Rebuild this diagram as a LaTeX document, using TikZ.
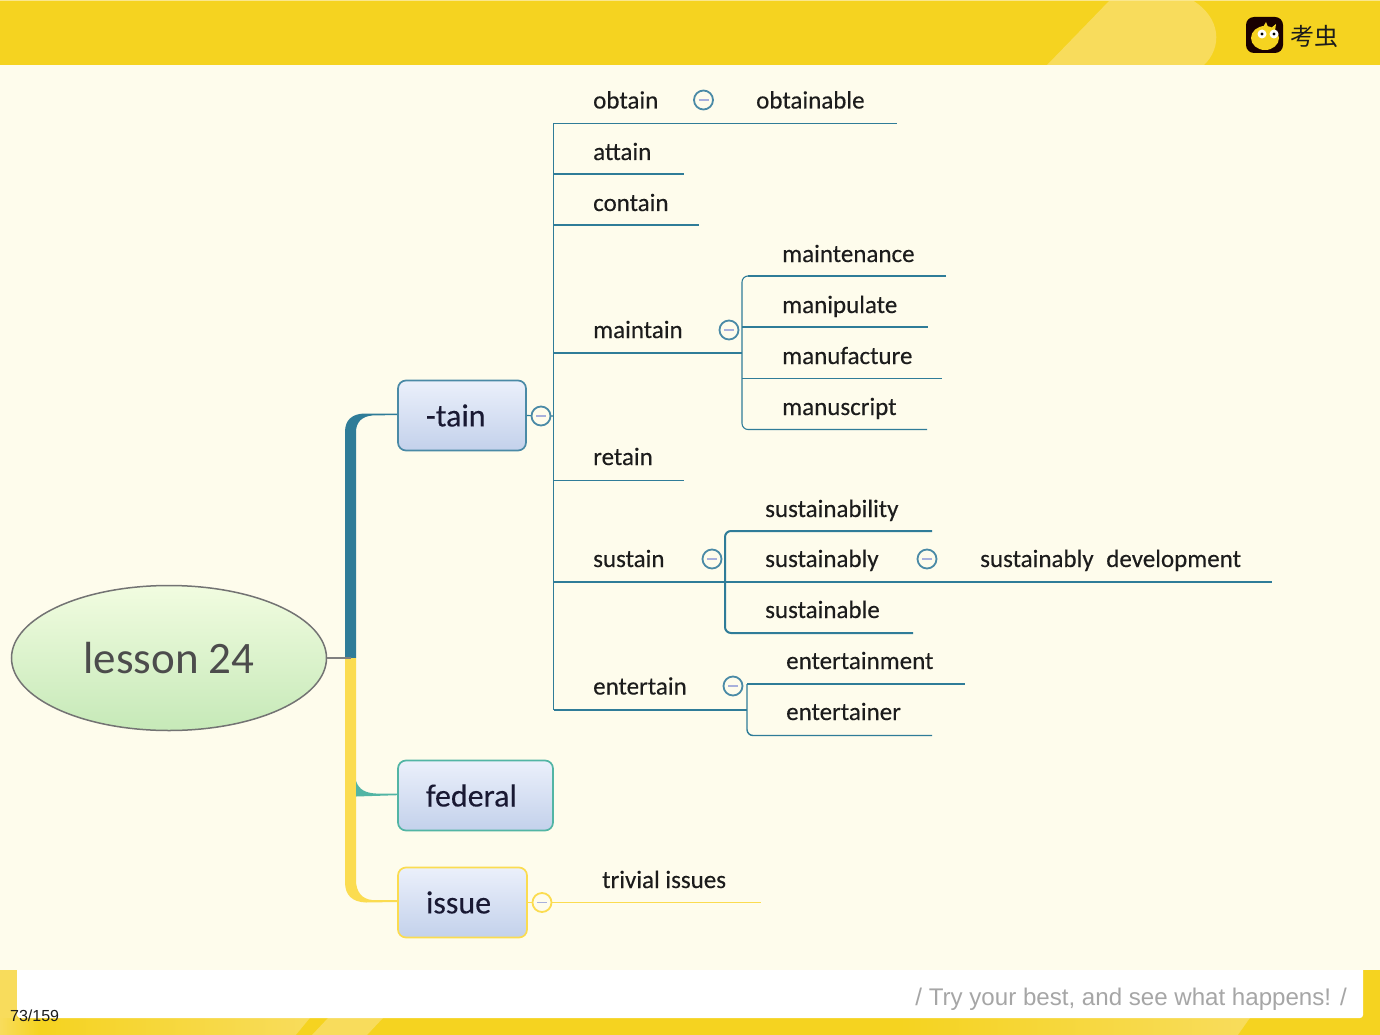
\documentclass[tikz,border=0pt]{standalone}
\usepackage{fontspec}
\setmainfont{Carlito}
\newfontfamily\lib{Liberation Sans}
\newfontfamily\cjk{Noto Sans CJK SC}
\usetikzlibrary{shapes.geometric,calc}
\definecolor{paper}{HTML}{FEFCEC}
\definecolor{gold}{HTML}{F5D320}
\definecolor{goldlight}{HTML}{F8DC5C}
\definecolor{teal}{HTML}{2F7C98}
\definecolor{tealsoft}{HTML}{4A8AA6}
\definecolor{sea}{HTML}{52B5A4}
\definecolor{sun}{HTML}{FBDC50}
\definecolor{ink}{HTML}{1C1C1C}
\definecolor{boxtop}{HTML}{EBF0FB}
\definecolor{boxbottom}{HTML}{C3D1EB}
\definecolor{minuscol}{HTML}{A8B0DC}
\tikzset{
  wordnode/.style={anchor=base west,inner sep=0pt,font=\fontsize{25}{25}\selectfont\addfontfeature{FakeBold=0.25},text=ink},
  boxnode/.style={rectangle,rounded corners=8pt,draw=#1,line width=1.7pt,top color=boxtop,bottom color=boxbottom,
    minimum height=70pt,inner xsep=28pt,inner ysep=0pt,align=left,font=\fontsize{32}{32}\selectfont\addfontfeature{FakeBold=0.15},text=ink!90!blue},
  minusnode/.style={circle,draw=#1,line width=1.8pt,fill=paper,minimum size=19pt,inner sep=0pt,
    path picture={\draw[color=minuscol,line width=1.8pt] ($(path picture bounding box.center)+(-5,0)$) -- ($(path picture bounding box.center)+(5,0)$);}},
  bline/.style={draw=teal,line width=2pt},
  bthin/.style={draw=teal,line width=1.1pt},
  bracket/.style={draw=teal,line width=2pt,rounded corners=6pt},
}
\begin{document}
\begin{tikzpicture}[x=1pt,y=-1pt]
\useasboundingbox (0,0) rectangle (1380,1035);
% page
\fill[paper] (0,0) rectangle (1380,1035);
\fill[gold] (0,0) rectangle (1380,65);
\fill[goldlight] (1047,65) -- (1110,0) -- (1192,0) .. controls (1222,18) and (1222,48) .. (1204,65) -- cycle;
\fill[goldlight!70!white] (0,0) rectangle (1380,1.5);
\fill[gold] (0,970) rectangle (1380,1035);
\fill[goldlight] (0,970) rectangle (17,1018);
\shade[left color=goldlight,right color=gold] (0,1018) rectangle (40,1035);
\shade[left color=gold,right color=goldlight] (40,1018) rectangle (310,1035);
\fill[gold] (310,1018) -- (328,1018) -- (312,1035) -- (296,1035) -- cycle;
\fill[goldlight] (328,1018) -- (383,1018) -- (367,1035) -- (312,1035) -- cycle;
\shade[left color=gold,right color=goldlight] (900,1018) rectangle (1250,1035);
\fill[gold] (1250,1018) -- (1380,1018) -- (1380,1035) -- (1238,1035) -- cycle;
\fill[white,rounded corners=3pt] (17,960) -- (1363,960) -- (1363,1018) -- (17,1018) -- cycle;
\fill[paper] (0,960) rectangle (1380,970);
% logo
\fill[black!90!red,rounded corners=8pt] (1246,17) rectangle (1283,53);
\fill[gold] (1265,38) ellipse (14pt and 12pt);
\fill[gold] (1263,27) -- (1266,22) -- (1268,27) -- cycle;
\fill[gold] (1271,28) -- (1276,24) -- (1275,31) -- cycle;
\fill[white] (1262,34) circle (4.5pt) (1274,34) circle (4.5pt);
\fill[black] (1262,34) circle (1.6pt) (1274,34) circle (1.6pt);
\node[inner sep=0pt,font=\cjk\fontsize{24}{24}\selectfont,text=ink] (brand) at (1314.5,36) {考虫};
% footer text
\node[anchor=base west,inner sep=0pt,font=\lib\fontsize{16}{16}\selectfont,text=ink] (pageno) at (10,1021) {73/159};
\node[anchor=base east,inner sep=0pt,font=\lib\fontsize{24.1}{25}\selectfont,text=black!35] (motto) at (1347,1005) {/ Try your best, and see what happens! /};
% main nodes
\node[ellipse,draw=black!55,line width=1.5pt,top color=green!5!paper,bottom color=green!55!black!18!paper!95!green,
  minimum width=315pt,minimum height=145pt,inner sep=0pt,font=\fontsize{45}{45}\selectfont,text=black!70] (root) at (169,658) {\raisebox{-2pt}{lesson 24}};
\node[boxnode=tealsoft,text width=72pt] (tain) at (462,415.5) {\raisebox{-2pt}{-tain}};
\node[boxnode=sea,text width=99pt] (federal) at (475.5,795.5) {\raisebox{-1pt}{federal}};
\node[boxnode=sun,text width=73pt] (issue) at (462.5,902.5) {\raisebox{-1pt}{issue}};
% trunk
\coordinate (hub) at (351,658);
\fill[teal] (345,658) -- (345,432) .. controls (345,420) and (352,414) .. (364,413.5) -- ([yshift=2pt]tain.west) -- ([yshift=0.5pt]tain.west) -- (372,415.5) .. controls (362,416.5) and (356,422) .. (356,432) -- (356,658) -- cycle;
\fill[sun] (345,658) -- (345,882) .. controls (345,895) and (352,902) .. (366,902.5) -- ([yshift=0.5pt]issue.west) -- ([yshift=2.5pt]issue.west) -- (372,900) .. controls (362,899) and (356,892) .. (356,880) -- (356,658) -- cycle;
\fill[sea] (356,781) .. controls (359,790) and (366,793) .. (376,793.5) -- ([yshift=2pt]federal.west) -- ([yshift=0.3pt]federal.west) -- (356,796.5) -- cycle;
\draw[draw=black!50,line width=1.3pt] (root.east) -- (hub);
% second level spine
\coordinate (spine) at (553.5,416);
\coordinate (spineTop) at (553.5,123.5);
\coordinate (spineBot) at (553.5,710);
\draw[bthin] (spineTop) -- (spineBot);
\draw[bthin] (tain.east) -- (spine);
\coordinate (obtainE) at (897,123.5);
\coordinate (attainL) at (553,174);\coordinate (attainE) at (684,174);
\coordinate (containL) at (553,225);\coordinate (containE) at (699,225);
\coordinate (maintainL) at (553,353);\coordinate (maintainH) at (742,353);
\coordinate (retainL) at (553,480.5);\coordinate (retainE) at (684,480.5);
\coordinate (sustainL) at (553,582);\coordinate (sustainE) at (1272,582);
\coordinate (entertainH) at (747,710);
\draw[bthin] (spineTop) -- (obtainE);
\draw[bline] (attainL) -- (attainE);
\draw[bline] (containL) -- (containE);
\draw[bline] (maintainL) -- (maintainH);
\draw[bthin] (retainL) -- (retainE);
\draw[bline] (sustainL) -- (sustainE);
\draw[bline] (spineBot) -- (entertainH);
% maintain group
\coordinate (mA) at (946,276);\coordinate (mB) at (928,327);\coordinate (mC) at (942,378.5);\coordinate (mD) at (927,429.5);
\draw[bline] (mA) -- (748,276);
\draw[bthin,rounded corners=6pt] (748,276) -- (742,276) -- (742,429.5) -- (mD);
\draw[bline] (742,327) -- (mB);
\draw[bthin] (742,378.5) -- (mC);
% sustain group
\coordinate (sA) at (932,531);\coordinate (sC) at (913,633);
\draw[bracket] (sA) -- (725,531) -- (725,633) -- (sC);
% entertain group
\coordinate (eA) at (965,684);\coordinate (eB) at (932,735.5);
\draw[bline] (747,684) -- (eA);
\draw[bthin,rounded corners=6pt,line width=1.4pt] (747,684) -- (747,735.5) -- (eB);
% trivial
\coordinate (trivE) at (761,902.5);
\draw[draw=sun,line width=1.2pt] (issue.east) -- (trivE);
% collapse markers
\node[minusnode=tealsoft] (c0) at (541,416) {};
\node[minusnode=tealsoft] (c1) at (703.5,100) {};
\node[minusnode=tealsoft] (c2) at (729,330) {};
\node[minusnode=tealsoft] (c3) at (712,559) {};
\node[minusnode=tealsoft] (c4) at (733,686) {};
\node[minusnode=tealsoft] (c5) at (927,559) {};
\node[minusnode=sun] (c6) at (542,902.5) {};
% words
\node[wordnode] (obtain) at (593,108.5) {obtain};
\node[wordnode] (obtainable) at (756,108.5) {obtainable};
\node[wordnode] (attain) at (593,160) {attain};
\node[wordnode] (contain) at (593,211) {contain};
\node[wordnode] (maintain) at (593,338) {maintain};
\node[wordnode] (retain) at (593,465) {retain};
\node[wordnode] (sustain) at (593,567) {sustain};
\node[wordnode] (entertain) at (593,694.5) {entertain};
\node[wordnode] (maintenance) at (782,262) {maintenance};
\node[wordnode] (manipulate) at (782,313) {manipulate};
\node[wordnode] (manufacture) at (782,364) {manufacture};
\node[wordnode] (manuscript) at (782,415) {manuscript};
\node[wordnode] (sustainability) at (765,517) {sustainability};
\node[wordnode] (sustainably) at (765,567) {sustainably};
\node[wordnode] (sustainable) at (765,618) {sustainable};
\node[wordnode] (development) at (980,567) {sustainably\hspace{7pt} development};
\node[wordnode] (entertainment) at (786,669) {entertainment};
\node[wordnode] (entertainer) at (786,720) {entertainer};
\node[wordnode] (trivial) at (602,888) {trivial issues};
\end{tikzpicture}
\end{document}
